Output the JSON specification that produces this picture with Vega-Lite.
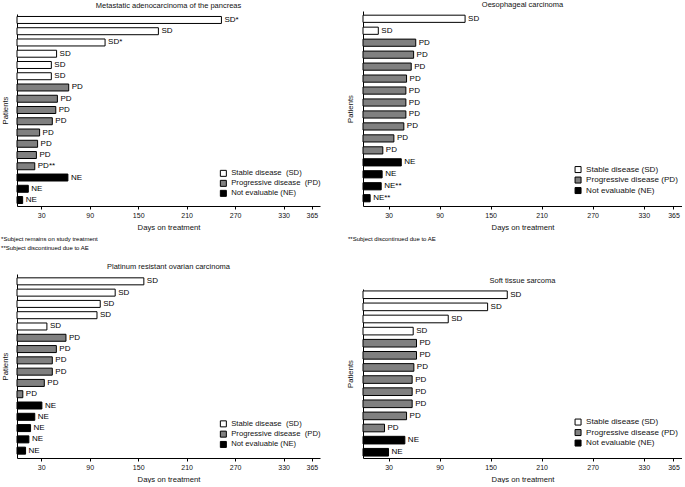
{
  "$schema": "https://vega.github.io/schema/vega-lite/v6.json",
  "padding": {"left": 1, "top": 0, "right": 0, "bottom": 0},
  "background": "white",
  "config": {
    "font": "Liberation Sans",
    "view": {"stroke": null},
    "axis": {"domainColor": "black", "domainWidth": 1, "tickColor": "black", "labelColor": "#111", "titleColor": "#111", "labelFont": "Liberation Sans", "titleFont": "Liberation Sans", "titleFontWeight": "normal", "labelFontSize": 7, "titleFontSize": 7.7, "grid": false},
    "title": {"fontSize": 7.5, "fontWeight": "normal", "color": "#111", "font": "Liberation Sans", "anchor": "middle", "frame": "group"},
    "legend": {"symbolType": "square", "symbolStrokeColor": "black", "symbolStrokeWidth": 1, "labelFont": "Liberation Sans", "labelColor": "#111", "padding": 0, "labelOffset": 4, "title": null}
  },
  "datasets": {
    "pancreas": [
      {"id": 1, "days": 253, "status": "SD", "label": "SD*"},
      {"id": 2, "days": 175, "status": "SD", "label": "SD"},
      {"id": 3, "days": 109, "status": "SD", "label": "SD*"},
      {"id": 4, "days": 49, "status": "SD", "label": "SD"},
      {"id": 5, "days": 42.5, "status": "SD", "label": "SD"},
      {"id": 6, "days": 42.5, "status": "SD", "label": "SD"},
      {"id": 7, "days": 64, "status": "PD", "label": "PD"},
      {"id": 8, "days": 50, "status": "PD", "label": "PD"},
      {"id": 9, "days": 48, "status": "PD", "label": "PD"},
      {"id": 10, "days": 43.7, "status": "PD", "label": "PD"},
      {"id": 11, "days": 28, "status": "PD", "label": "PD"},
      {"id": 12, "days": 25.5, "status": "PD", "label": "PD"},
      {"id": 13, "days": 24, "status": "PD", "label": "PD"},
      {"id": 14, "days": 22, "status": "PD", "label": "PD**"},
      {"id": 15, "days": 63, "status": "NE", "label": "NE"},
      {"id": 16, "days": 14, "status": "NE", "label": "NE"},
      {"id": 17, "days": 7, "status": "NE", "label": "NE"}
    ],
    "oesophageal": [
      {"id": 1, "days": 120, "status": "SD", "label": "SD"},
      {"id": 2, "days": 18, "status": "SD", "label": "SD"},
      {"id": 3, "days": 62, "status": "PD", "label": "PD"},
      {"id": 4, "days": 59.5, "status": "PD", "label": "PD"},
      {"id": 5, "days": 56.7, "status": "PD", "label": "PD"},
      {"id": 6, "days": 51.2, "status": "PD", "label": "PD"},
      {"id": 7, "days": 50.4, "status": "PD", "label": "PD"},
      {"id": 8, "days": 50.4, "status": "PD", "label": "PD"},
      {"id": 9, "days": 50.4, "status": "PD", "label": "PD"},
      {"id": 10, "days": 48, "status": "PD", "label": "PD"},
      {"id": 11, "days": 36.3, "status": "PD", "label": "PD"},
      {"id": 12, "days": 23.3, "status": "PD", "label": "PD"},
      {"id": 13, "days": 45, "status": "NE", "label": "NE"},
      {"id": 14, "days": 22.5, "status": "NE", "label": "NE"},
      {"id": 15, "days": 21.4, "status": "NE", "label": "NE**"},
      {"id": 16, "days": 8.4, "status": "NE", "label": "NE**"}
    ],
    "ovarian": [
      {"id": 1, "days": 157, "status": "SD", "label": "SD"},
      {"id": 2, "days": 121.5, "status": "SD", "label": "SD"},
      {"id": 3, "days": 103, "status": "SD", "label": "SD"},
      {"id": 4, "days": 99, "status": "SD", "label": "SD"},
      {"id": 5, "days": 37, "status": "SD", "label": "SD"},
      {"id": 6, "days": 60.6, "status": "PD", "label": "PD"},
      {"id": 7, "days": 48.7, "status": "PD", "label": "PD"},
      {"id": 8, "days": 43.7, "status": "PD", "label": "PD"},
      {"id": 9, "days": 43.7, "status": "PD", "label": "PD"},
      {"id": 10, "days": 33.8, "status": "PD", "label": "PD"},
      {"id": 11, "days": 7.2, "status": "PD", "label": "PD"},
      {"id": 12, "days": 30.8, "status": "NE", "label": "NE"},
      {"id": 13, "days": 22, "status": "NE", "label": "NE"},
      {"id": 14, "days": 16.8, "status": "NE", "label": "NE"},
      {"id": 15, "days": 14.7, "status": "NE", "label": "NE"},
      {"id": 16, "days": 10.6, "status": "NE", "label": "NE"}
    ],
    "sarcoma": [
      {"id": 1, "days": 169.6, "status": "SD", "label": "SD"},
      {"id": 2, "days": 146.5, "status": "SD", "label": "SD"},
      {"id": 3, "days": 100.2, "status": "SD", "label": "SD"},
      {"id": 4, "days": 59, "status": "SD", "label": "SD"},
      {"id": 5, "days": 62.9, "status": "PD", "label": "PD"},
      {"id": 6, "days": 62.9, "status": "PD", "label": "PD"},
      {"id": 7, "days": 59.8, "status": "PD", "label": "PD"},
      {"id": 8, "days": 57.8, "status": "PD", "label": "PD"},
      {"id": 9, "days": 57.8, "status": "PD", "label": "PD"},
      {"id": 10, "days": 57.8, "status": "PD", "label": "PD"},
      {"id": 11, "days": 51.2, "status": "PD", "label": "PD"},
      {"id": 12, "days": 25.3, "status": "PD", "label": "PD"},
      {"id": 13, "days": 49.2, "status": "NE", "label": "NE"},
      {"id": 14, "days": 30, "status": "NE", "label": "NE"}
    ]
  },
  "resolve": {"scale": {"color": "independent", "x": "independent", "y": "independent"}, "legend": {"color": "independent"}},
  "spacing": 4,
  "vconcat": [
    {
      "hconcat": [
        {
          "width": 303, "height": 195,
          "title": {"text": "Metastatic adenocarcinoma of the pancreas", "offset": 3, "dy": 1},
          "data": {"name": "pancreas"},
          "encoding": {
            "y": {"field": "id", "type": "ordinal", "sort": "ascending", "scale": {"range": [3, 195], "paddingInner": 0.38, "paddingOuter": 0.22}, "axis": {"title": "Patients", "labels": false, "ticks": false, "titlePadding": 8}},
            "x": {"field": "days", "type": "quantitative", "scale": {"domain": [0, 375], "nice": false}, "axis": {"values": [30, 90, 150, 210, 270, 330, 365], "title": "Days on treatment", "tickSize": 3, "labelPadding": 2, "titlePadding": 5}}
          },
          "layer": [
            {"mark": {"type": "bar", "stroke": "black", "strokeWidth": 1},
             "encoding": {"color": {"field": "status", "type": "nominal", "scale": {"domain": ["SD", "PD", "NE"], "range": ["white", "#808080", "black"]},
               "legend": {"orient": "none", "legendX": 202.5, "legendY": 158.5, "symbolSize": 36, "labelFontSize": 7.7, "rowPadding": -1,
                 "labelExpr": "datum.value == 'SD' ? 'Stable disease \u00a0(SD)' : datum.value == 'PD' ? 'Progressive disease \u00a0(PD)' : 'Not evaluable (NE)'"}}}},
            {"mark": {"type": "text", "align": "left", "baseline": "middle", "dx": 3, "fontSize": 8, "fill": "black"}, "encoding": {"text": {"field": "label"}}}
          ]
        },
        {
          "width": 319, "height": 195,
          "title": {"text": "Oesophageal carcinoma", "offset": 3},
          "data": {"name": "oesophageal"},
          "encoding": {
            "y": {"field": "id", "type": "ordinal", "sort": "ascending", "scale": {"paddingInner": 0.4, "paddingOuter": 0.35}, "axis": {"title": "Patients", "labels": false, "ticks": false, "titlePadding": 9}},
            "x": {"field": "days", "type": "quantitative", "scale": {"domain": [0, 375], "nice": false}, "axis": {"values": [30, 90, 150, 210, 270, 330, 365], "title": "Days on treatment", "tickSize": 3, "labelPadding": 2, "titlePadding": 5}}
          },
          "layer": [
            {"mark": {"type": "bar", "stroke": "black", "strokeWidth": 1},
             "encoding": {"color": {"field": "status", "type": "nominal", "scale": {"domain": ["SD", "PD", "NE"], "range": ["white", "#808080", "black"]},
               "legend": {"orient": "none", "legendX": 211, "legendY": 154.5, "symbolSize": 36, "labelFontSize": 8.1, "rowPadding": -0.5,
                 "labelExpr": "datum.value == 'SD' ? 'Stable disease (SD)' : datum.value == 'PD' ? 'Progressive disease (PD)' : 'Not evaluable (NE)'"}}}},
            {"mark": {"type": "text", "align": "left", "baseline": "middle", "dx": 3, "fontSize": 8, "fill": "black"}, "encoding": {"text": {"field": "label"}}}
          ]
        }
      ],
      "spacing": 25,
      "resolve": {"scale": {"color": "independent"}, "legend": {"color": "independent"}}
    },
    {
      "hconcat": [
        {
          "width": 319, "height": 23,
          "data": {"values": [{"n": 1, "t": "*Subject remains on study treatment"}, {"n": 2, "t": "**Subject discontinued due to AE"}]},
          "mark": {"type": "text", "align": "left", "baseline": "middle", "fontSize": 6, "fill": "black"},
          "encoding": {
            "x": {"datum": 0, "type": "quantitative", "scale": {"domain": [0.05, 1.05], "zero": false}, "axis": null},
            "y": {"field": "n", "type": "quantitative", "scale": {"domain": [0.5, 3.24], "reverse": true}, "axis": null},
            "text": {"field": "t"}
          }
        },
        {
          "width": 319, "height": 23,
          "data": {"values": [{"n": 1, "t": "**Subject discontinued due to AE"}]},
          "mark": {"type": "text", "align": "left", "baseline": "middle", "fontSize": 6, "fill": "black"},
          "encoding": {
            "x": {"datum": 0, "type": "quantitative", "scale": {"domain": [0, 1]}, "axis": null},
            "y": {"field": "n", "type": "quantitative", "scale": {"domain": [0.5, 3.24], "reverse": true}, "axis": null},
            "text": {"field": "t"}
          }
        }
      ],
      "spacing": 12
    },
    {
      "hconcat": [
        {
          "width": 303, "height": 184,
          "title": {"text": "Platinum resistant ovarian carcinoma", "offset": 4},
          "data": {"name": "ovarian"},
          "encoding": {
            "y": {"field": "id", "type": "ordinal", "sort": "ascending", "scale": {"paddingInner": 0.38, "paddingOuter": 0.34}, "axis": {"title": "Patients", "labels": false, "ticks": false, "titlePadding": 8}},
            "x": {"field": "days", "type": "quantitative", "scale": {"domain": [0, 375], "nice": false}, "axis": {"values": [30, 90, 150, 210, 270, 330, 365], "title": "Days on treatment", "tickSize": 3, "labelPadding": 2, "titlePadding": 5}}
          },
          "layer": [
            {"mark": {"type": "bar", "stroke": "black", "strokeWidth": 1},
             "encoding": {"color": {"field": "status", "type": "nominal", "scale": {"domain": ["SD", "PD", "NE"], "range": ["white", "#808080", "black"]},
               "legend": {"orient": "none", "legendX": 202.5, "legendY": 146, "symbolSize": 36, "labelFontSize": 7.7, "rowPadding": -0.7,
                 "labelExpr": "datum.value == 'SD' ? 'Stable disease \u00a0(SD)' : datum.value == 'PD' ? 'Progressive disease \u00a0(PD)' : 'Not evaluable (NE)'"}}}},
            {"mark": {"type": "text", "align": "left", "baseline": "middle", "dx": 3, "fontSize": 8, "fill": "black"}, "encoding": {"text": {"field": "label"}}}
          ]
        },
        {
          "width": 319, "height": 184,
          "title": {"text": "Soft tissue sarcoma", "offset": 4, "dy": 14},
          "data": {"name": "sarcoma"},
          "encoding": {
            "y": {"field": "id", "type": "ordinal", "sort": "ascending", "scale": {"range": [15, 184], "paddingInner": 0.37, "paddingOuter": 0.16}, "axis": {"title": "Patients", "labels": false, "ticks": false, "titlePadding": 9}},
            "x": {"field": "days", "type": "quantitative", "scale": {"domain": [0, 375], "nice": false}, "axis": {"values": [30, 90, 150, 210, 270, 330, 365], "title": "Days on treatment", "tickSize": 3, "labelPadding": 2, "titlePadding": 5}}
          },
          "layer": [
            {"mark": {"type": "bar", "stroke": "black", "strokeWidth": 1},
             "encoding": {"color": {"field": "status", "type": "nominal", "scale": {"domain": ["SD", "PD", "NE"], "range": ["white", "#808080", "black"]},
               "legend": {"orient": "none", "legendX": 211, "legendY": 144, "symbolSize": 36, "labelFontSize": 8.1, "rowPadding": -0.5,
                 "labelExpr": "datum.value == 'SD' ? 'Stable disease (SD)' : datum.value == 'PD' ? 'Progressive disease (PD)' : 'Not evaluable (NE)'"}}}},
            {"mark": {"type": "text", "align": "left", "baseline": "middle", "dx": 3, "fontSize": 8, "fill": "black"}, "encoding": {"text": {"field": "label"}}}
          ]
        }
      ],
      "spacing": 25,
      "resolve": {"scale": {"color": "independent"}, "legend": {"color": "independent"}}
    }
  ]
}
